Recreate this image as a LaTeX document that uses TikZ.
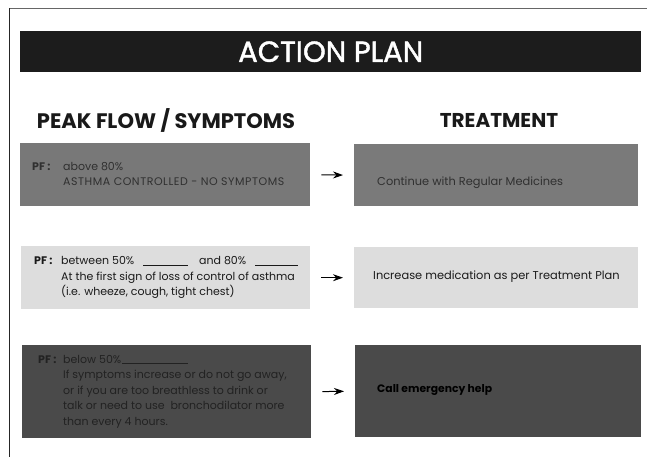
\documentclass[tikz,border=0pt]{standalone}
\usepackage{fontspec}
\setmainfont{Poppins}
\usetikzlibrary{arrows.meta}
\definecolor{barblack}{HTML}{1C1C1C}
\definecolor{midgray}{HTML}{787878}
\definecolor{midgrayr}{HTML}{7A7A7A}
\definecolor{lightgray}{HTML}{DDDDDD}
\definecolor{darkgray}{HTML}{4A4A4A}
\definecolor{txtmid}{HTML}{303030}
\definecolor{txtlight}{HTML}{1A1A1A}
\definecolor{txtdark}{HTML}{222222}
\newcommand{\blankline}[1]{\rule[-0.5pt]{#1}{0.6pt}}
\begin{document}
\begin{tikzpicture}[x=1pt,y=-1pt,
  panel/.style={anchor=north west, inner sep=0pt, draw=none},
  lefttext/.style={anchor=west, inner sep=0pt, align=left, font=\fontsize{11}{15.5}\selectfont},
  righttext/.style={anchor=west, inner sep=0pt, font=\fontsize{11.4}{13}\selectfont},
  heading/.style={inner sep=0pt, font=\fontsize{21}{23}\selectfont\bfseries, text=black!90},
  arr/.style={-{Stealth[length=10pt,width=7pt]}, line width=1pt, black, shorten <=11pt, shorten >=11pt}
]
\useasboundingbox (0,0) rectangle (647,457);
\fill[white] (0,0) rectangle (647,457);
% page border
\draw[black!60, line width=1.2pt] (9,8.5) -- (647,8.5);
\draw[black!85, line width=1pt] (9.5,8.5) -- (9.5,457);
% title bar
\node[panel, fill=barblack, minimum width=621pt, minimum height=41pt] (bar) at (20,31) {};
\node[inner sep=0pt, text=white, font=\fontsize{29}{31}\selectfont\addfontfeature{FakeBold=1.5}] (title) at (bar.center) {ACTION PLAN};
% headings
\node[heading] (hleft) at (166,120) {PEAK FLOW / SYMPTOMS};
\node[heading, font=\fontsize{20}{22}\selectfont\bfseries] (hright) at (499,120) {TREATMENT};
% panels
\node[panel, fill=midgray, minimum width=290pt, minimum height=63pt] (l1) at (20,143) {};
\node[panel, fill=midgrayr, minimum width=284pt, minimum height=62pt] (r1) at (354,144) {};
\node[panel, fill=lightgray, minimum width=289pt, minimum height=63pt] (l2) at (21,246) {};
\node[panel, fill=lightgray, minimum width=284pt, minimum height=61pt] (r2) at (354,247) {};
\node[panel, fill=darkgray, minimum width=289pt, minimum height=93pt] (l3) at (22,345) {};
\node[panel, fill=darkgray, minimum width=286pt, minimum height=92pt] (r3) at (355,345) {};
% left texts
\node[lefttext, text=txtmid] (t1) at (32,175) {\begin{tabular}{@{}p{31pt}@{}l@{}}\textbf{PF :} & above 80\%\\ & {\addfontfeature{LetterSpace=5}ASTHMA CONTROLLED - NO SYMPTOMS}\end{tabular}};
\node[lefttext, text=txtlight] (t2) at (34,277) {\begin{tabular}{@{}p{27pt}@{}l@{}}\textbf{PF :} & \makebox[82pt][l]{between 50\%}\blankline{45pt}\hspace{11pt}\makebox[56pt][l]{and 80\%}\blankline{43pt}\\ & At the first sign of loss of control of asthma\\ & (i.e. wheeze, cough, tight chest)\end{tabular}};
\node[lefttext, text=txtdark] (t3) at (38,391) {\begin{tabular}{@{}p{25pt}@{}l@{}}\textbf{PF :} & \makebox[59pt][l]{below 50\%}\blankline{66pt}\\ & If symptoms increase or do not go away,\\ & or if you are too breathless to drink or\\ & talk or need to use \ bronchodilator more\\ & than every 4 hours.\end{tabular}};
% right texts
\node[righttext, text=txtmid] (u1) at (377,183) {Continue with Regular Medicines};
\node[righttext, text=txtlight] (u2) at (373,277) {Increase medication as per Treatment Plan};
\node[righttext, text=black, font=\fontsize{10.8}{13}\selectfont\bfseries] (u3) at (377,390) {Call emergency help};
% arrows
\draw[arr] (l1.east) -- (r1.west);
\draw[arr] (l2.east) -- (r2.west);
\draw[arr] (l3.east) -- (r3.west);
\end{tikzpicture}
\end{document}
